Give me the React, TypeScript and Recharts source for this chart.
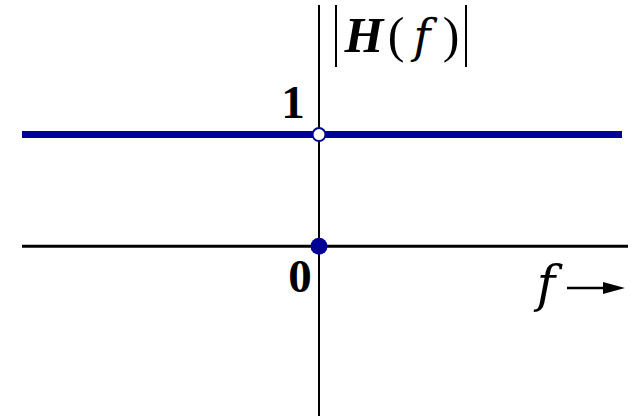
import { LineChart, Line, XAxis, YAxis, ReferenceLine, ReferenceDot, Customized } from 'recharts';

// |H(f)| = 1 for every f, with the value at f = 0 removed (open) and set to 0 (filled)
const freq = [-2.97, 0, 3.03];
const magnitude = [1, 1, 1];
const openPoint = { f: 0, h: 1 };
const filledPoint = { f: 0, h: 0 };

const data = freq.map((f, i) => ({ f, h: magnitude[i] }));

const BLUE = '#000096';
const SERIF = '"Liberation Serif", "Times New Roman", serif';
const ITALIC_F = '"DejaVu Serif", serif';

function Annotations() {
  return (
    <g fontFamily={SERIF} fill="#000">
      {/* axis value labels */}
      <text x={293} y={118} fontSize={47} fontWeight="bold" textAnchor="middle">1</text>
      <text x={300} y={292} fontSize={47} fontWeight="bold" textAnchor="middle">0</text>

      {/* |H(f)| title */}
      <line x1={336} y1={5} x2={336} y2={67} stroke="#000" strokeWidth={2} />
      <text x={364} y={52} fontSize={50} fontWeight="bold" fontStyle="italic" textAnchor="middle">H</text>
      <text x={396} y={52} fontSize={50} textAnchor="middle">(</text>
      <text x={422} y={52} fontSize={46} fontFamily={ITALIC_F} fontStyle="italic" textAnchor="middle">f</text>
      <text x={451} y={52} fontSize={50} textAnchor="middle">)</text>
      <line x1={466} y1={5} x2={466} y2={67} stroke="#000" strokeWidth={2} />

      {/* f axis name with arrow */}
      <text x={546} y={301} fontSize={50} fontFamily={ITALIC_F} fontStyle="italic" textAnchor="middle">f</text>
      <line x1={567} y1={288} x2={607} y2={288} stroke="#000" strokeWidth={2.5} />
      <polygon points="603,282 625,288 603,294" fill="#000" />
    </g>
  );
}

export default function App() {
  return (
    <div style={{ position: 'absolute', left: 0, top: 0, background: '#fff' }}>
      <LineChart
        width={635}
        height={416}
        data={data}
        margin={{ top: 5, right: 7, bottom: 0, left: 22 }}
      >
        <XAxis type="number" dataKey="f" domain={[-2.97, 3.09]} hide />
        <YAxis type="number" domain={[-1.52, 2.16]} hide />
        <ReferenceLine y={0} stroke="#000" strokeWidth={3} />
        <ReferenceLine x={0} stroke="#000" strokeWidth={2} />
        <Line
          dataKey="h"
          stroke={BLUE}
          strokeWidth={7}
          dot={false}
          activeDot={false}
          isAnimationActive={false}
        />
        <ReferenceDot x={openPoint.f} y={openPoint.h} r={6.5} fill="#fff" stroke={BLUE} strokeWidth={2} />
        <ReferenceDot x={filledPoint.f} y={filledPoint.h} r={8.5} fill={BLUE} stroke="none" />
        <Customized component={Annotations} />
      </LineChart>
    </div>
  );
}
